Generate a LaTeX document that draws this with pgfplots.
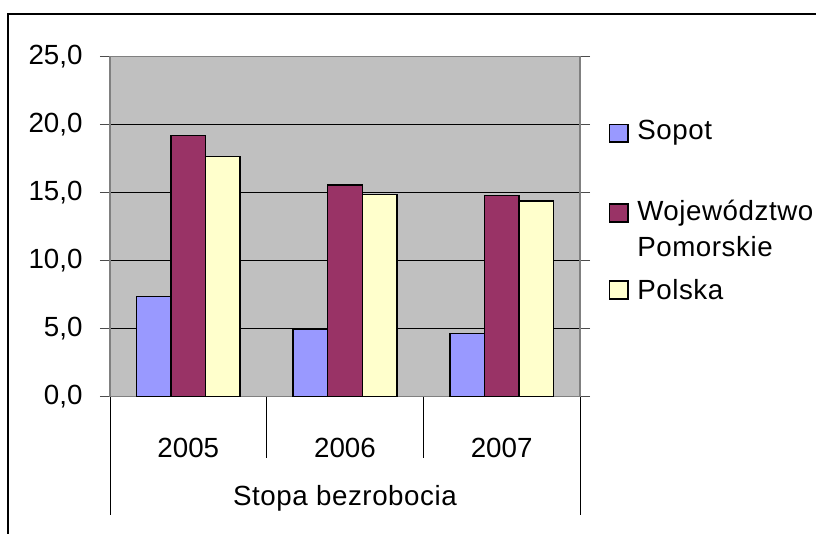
\documentclass[border=0pt]{standalone}
\usepackage{pgfplots}
\pgfplotsset{compat=1.18}
\usepackage{fontspec}
\setmainfont{Liberation Sans}
\newfontfamily\spaced{Liberation Sans}[LetterSpace=2]
\definecolor{sop}{HTML}{9999FF}
\definecolor{woj}{HTML}{993366}
\definecolor{pol}{HTML}{FFFFCC}
\definecolor{bg}{HTML}{C0C0C0}
\begin{document}
\fontsize{20.8pt}{25pt}\selectfont
\begin{tikzpicture}[x=0.75pt,y=-0.75pt]
\useasboundingbox (0,0) rectangle (816,534);
\draw[line width=1.5pt] (8,545) -- (8,14.5) -- (830,14.5);
\begin{axis}[
  at={(82.5pt,-297.5pt)}, anchor=south west,
  scale only axis, width=352.5pt, height=255pt,
  xmin=-0.5, xmax=2.5, ymin=0, ymax=25,
  ybar=0pt, bar width=25.9pt,
  axis background/.style={fill=bg},
  axis line style={black!50, line width=1.1pt},
  ymajorgrids, grid style={black, line width=0.75pt},
  ytick={0,5,10,15,20,25},
  tick align=outside, major tick length=7.5pt,
  ytick style={black!70, line width=0.75pt},
  xtick={0,1,2}, xticklabels={2005,2006,2007},
  xtick style={draw=none},
  x tick label style={anchor=center, yshift=-31pt},
  y tick label style={xshift=-6pt},
  /pgf/number format/.cd, fixed, fixed zerofill, precision=1, use comma, assume math mode=true,
  /pgfplots/.cd,
  clip=false,
  every axis plot/.append style={draw=black, line width=1.1pt},
]
\addplot[fill=sop] coordinates {(0,7.35) (1,4.95) (2,4.65)};
\addplot[fill=woj] coordinates {(0,19.2) (1,15.55) (2,14.8)};
\addplot[fill=pol] coordinates {(0,17.65) (1,14.85) (2,14.4)};
\draw[black, line width=0.75pt] (axis cs:-0.5,0) -- ++(0pt,-89pt);
\draw[black, line width=0.75pt] (axis cs:2.5,0) -- ++(0pt,-89pt);
\draw[black, line width=0.75pt] (axis cs:0.5,0) -- ++(0pt,-46pt);
\draw[black, line width=0.75pt] (axis cs:1.5,0) -- ++(0pt,-46pt);
\node[font=\spaced] at (axis cs:1,0) [yshift=-76pt] {Stopa bezrobocia};
\end{axis}
% legend
\draw[black, line width=1.1pt, fill=sop] (609.5,124.5) rectangle (628,142);
\node[anchor=west, inner sep=0pt, font=\spaced] at (637,133) {Sopot};
\draw[black, line width=1.1pt, fill=woj] (609.5,204) rectangle (628,222);
\node[anchor=west, inner sep=0pt, font=\spaced] at (637,213) {Województwo};
\node[anchor=west, inner sep=0pt, font=\spaced] at (637,247) {Pomorskie};
\draw[black, line width=1.1pt, fill=pol] (609.5,281) rectangle (628,299);
\node[anchor=west, inner sep=0pt, font=\spaced] at (637,290) {Polska};
\end{tikzpicture}
\end{document}
